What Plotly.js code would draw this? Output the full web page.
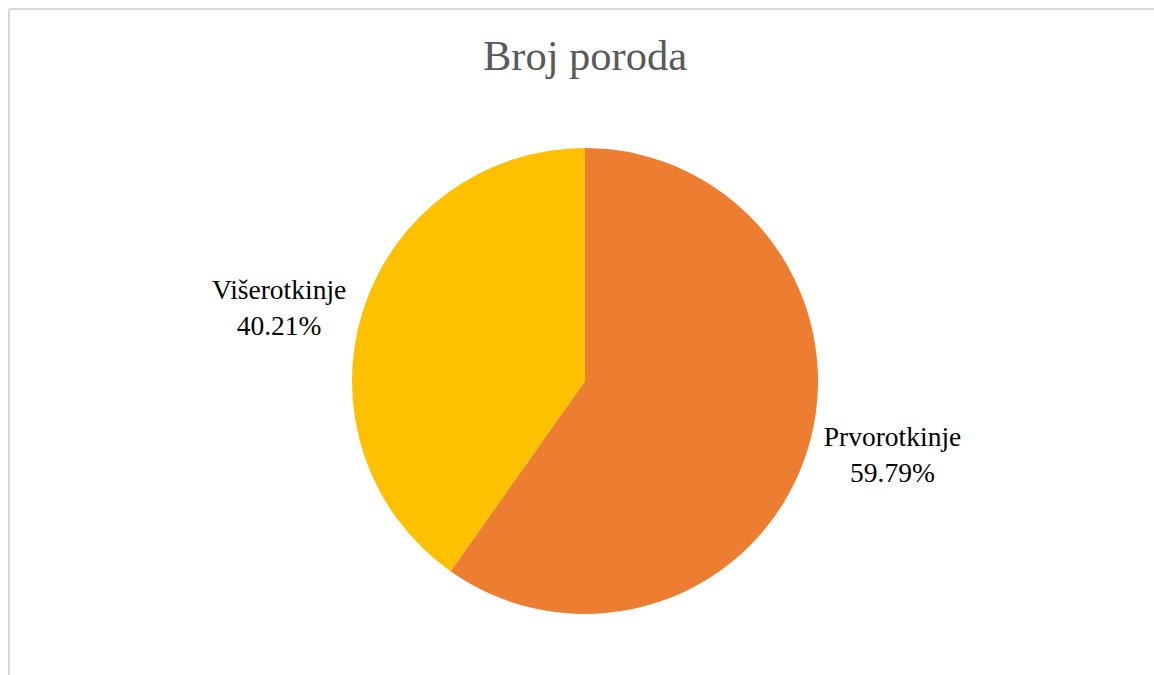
<!DOCTYPE html>
<html>
<head>
<meta charset="utf-8">
<script src="https://cdn.plot.ly/plotly-3.0.1.min.js"></script>
<style>
html,body{margin:0;padding:0;background:#fff;}
#chart{width:1154px;height:675px;}
</style>
</head>
<body>
<div id="chart"></div>
<script>
const titleText = "Broj poroda";
const categories = ["Prvorotkinje", "Višerotkinje"];
const values = [59.79, 40.21];
const colors = ["#ED7D31", "#FFC000"];

const W = 1154, H = 675;
const M = {l: 16, r: 0, t: 148, b: 61};
const pw = W - M.l - M.r, ph = H - M.t - M.b;
const px = x => (x - M.l) / pw;
const py = y => (H - M.b - y) / ph;

const trace = {
  type: "pie",
  labels: categories,
  values: values,
  sort: false,
  direction: "clockwise",
  rotation: 0,
  marker: {colors: colors, line: {width: 0}},
  textposition: "outside",
  texttemplate: "%{label}<br>%{percent:.2%}",
  textfont: {family: "Liberation Serif, Times New Roman, serif", size: 27.5, color: "#000000"},
  hoverinfo: "label+percent",
  showlegend: false,
  automargin: false
};

const layout = {
  width: W, height: H,
  margin: M,
  paper_bgcolor: "#ffffff",
  showlegend: false,
  title: {
    text: titleText,
    font: {family: "Liberation Serif, Times New Roman, serif", size: 42.5, color: "#595959"},
    x: 0.5 + 8 / W, xref: "container", xanchor: "center",
    y: 1 - 55 / H, yref: "container", yanchor: "middle"
  },
  shapes: [
    {type: "line", xref: "paper", yref: "paper", x0: px(9), x1: px(1154), y0: py(9), y1: py(9), line: {color: "#d9d9d9", width: 2}},
    {type: "line", xref: "paper", yref: "paper", x0: px(9), x1: px(9), y0: py(9), y1: py(675), line: {color: "#d9d9d9", width: 2}}
  ]
};

Plotly.newPlot("chart", [trace], layout, {displayModeBar: false, staticPlot: true});
</script>
</body>
</html>
